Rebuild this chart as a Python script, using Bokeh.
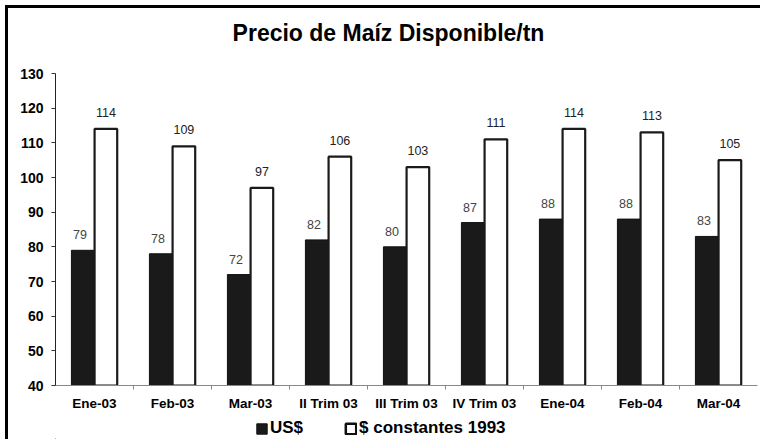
import numpy as np
from bokeh.plotting import figure
from bokeh.layouts import column
from bokeh.models import (ColumnDataSource, Range1d, FixedTicker, Legend, LegendItem, Label)
from bokeh.core.properties import value
from bokeh.transform import dodge
from bokeh.embed import file_html
from bokeh.resources import INLINE

categories = ["Ene-03", "Feb-03", "Mar-03", "II Trim 03", "III Trim 03",
              "IV Trim 03", "Ene-04", "Feb-04", "Mar-04"]
usd = [79, 78, 72, 82, 80, 87, 88, 88, 83]
constantes = [114, 109, 97, 106, 103, 111, 114, 113, 105]
y_ticks = [40, 50, 60, 70, 80, 90, 100, 110, 120, 130]
title_text = "Precio de Maíz Disponible/tn"
series_names = ["US$", "$ constantes 1993"]

pos = [i + 0.5 for i in range(len(categories))]
bounds = [i for i in range(1, len(categories))]

src = ColumnDataSource(dict(x=pos, usd=usd, cons=constantes,
                            usd_t=[str(v) for v in usd],
                            cons_t=[str(v) for v in constantes]))

FONT = "Liberation Sans"
W = 752


def bare(fig):
    fig.background_fill_color = "white"
    fig.border_fill_color = "white"
    fig.outline_line_color = None
    fig.xgrid.visible = False
    fig.ygrid.visible = False
    return fig


# ---- title strip ----
pt = bare(figure(width=W, height=57, x_range=Range1d(0, 1), y_range=Range1d(0, 1),
                 output_backend="svg", toolbar_location=None,
                 x_axis_location=None, y_axis_location=None, min_border=0))
pt.add_layout(Label(x=333, y=33, x_units="screen", y_units="screen", text=title_text,
                    text_align="center", text_baseline="middle",
                    text_font=FONT, text_font_style="bold", text_font_size="23px",
                    text_color="#000000"))

# ---- main chart ----
p = bare(figure(width=W, height=350, x_range=Range1d(0, 9), y_range=Range1d(40, 130),
                output_backend="svg", toolbar_location=None,
                min_border_left=47, min_border_right=3, min_border_top=8, min_border_bottom=30))

r1 = p.vbar(x=dodge("x", -0.148, range=p.x_range), top="usd", bottom=0, width=0.296,
            source=src, fill_color="#1a1a1a", line_color="#111111", line_width=1)
r2 = p.vbar(x=dodge("x", 0.146, range=p.x_range), top="cons", bottom=0, width=0.29,
            source=src, fill_color="white", line_color="#1a1a1a", line_width=2.2)

p.text(x=dodge("x", -0.148, range=p.x_range), y="usd", text="usd_t", source=src,
       text_align="center", text_baseline="bottom", y_offset=-11, x_offset=-3,
       text_font=value(FONT), text_font_size="12.5px", text_color="#444444")
p.text(x=dodge("x", 0.146, range=p.x_range), y="cons", text="cons_t", source=src,
       text_align="center", text_baseline="bottom", y_offset=-12,
       text_font=value(FONT), text_font_size="12.5px", text_color="#222222")

p.xaxis.ticker = FixedTicker(ticks=pos, minor_ticks=bounds)
p.xaxis.major_label_overrides = {pv: c for pv, c in zip(pos, categories)}
p.xaxis.major_tick_out = 0
p.xaxis.major_tick_in = 0
p.xaxis.minor_tick_out = 4
p.xaxis.minor_tick_in = 0
p.xaxis.minor_tick_line_color = "#888888"
p.xaxis.axis_line_color = "#888888"
p.xaxis.major_label_standoff = 6
p.xaxis.major_label_text_font = FONT
p.xaxis.major_label_text_font_style = "bold"
p.xaxis.major_label_text_font_size = "13.5px"
p.xaxis.major_label_text_color = "#000000"

p.yaxis.ticker = FixedTicker(ticks=y_ticks, minor_ticks=[])
p.yaxis.major_tick_out = 4
p.yaxis.major_tick_in = 0
p.yaxis.major_tick_line_color = "#333333"
p.yaxis.axis_line_color = "#222222"
p.yaxis.major_label_standoff = 8
p.yaxis.major_label_text_font = FONT
p.yaxis.major_label_text_font_style = "bold"
p.yaxis.major_label_text_font_size = "14px"
p.yaxis.major_label_text_color = "#000000"

# ---- legend strip (swatch renderers hold one row far outside the visible range) ----
pl = bare(figure(width=W, height=24, x_range=Range1d(0, 1), y_range=Range1d(0, 1),
                 output_backend="svg", toolbar_location=None,
                 x_axis_location=None, y_axis_location=None, min_border=0))
dummy = ColumnDataSource(dict(x=[-50], top=[-40], bottom=[-50]))
l1 = pl.vbar(x="x", top="top", bottom="bottom", width=0.01, source=dummy,
             fill_color="#1a1a1a", line_color="#111111", line_width=1)
l2 = pl.vbar(x="x", top="top", bottom="bottom", width=0.01, source=dummy,
             fill_color="white", line_color="#111111", line_width=2.5)
legend = Legend(items=[LegendItem(label=series_names[0], renderers=[l1]),
                       LegendItem(label=series_names[1], renderers=[l2])],
                orientation="horizontal", location=(200, 1),
                glyph_width=13, glyph_height=13, label_standoff=2, spacing=41,
                label_text_font=FONT, label_text_font_style="bold",
                label_text_font_size="17px", label_text_color="#000000",
                border_line_color=None, background_fill_alpha=0,
                margin=0, padding=1)
pl.add_layout(legend)

layout = column(pt, p, pl, spacing=0)
layout.styles = {"margin-left": "5px", "margin-top": "5px",
                 "border-top": "3px solid black", "border-left": "3px solid black"}

open("out.html", "w").write(file_html(layout, INLINE))
